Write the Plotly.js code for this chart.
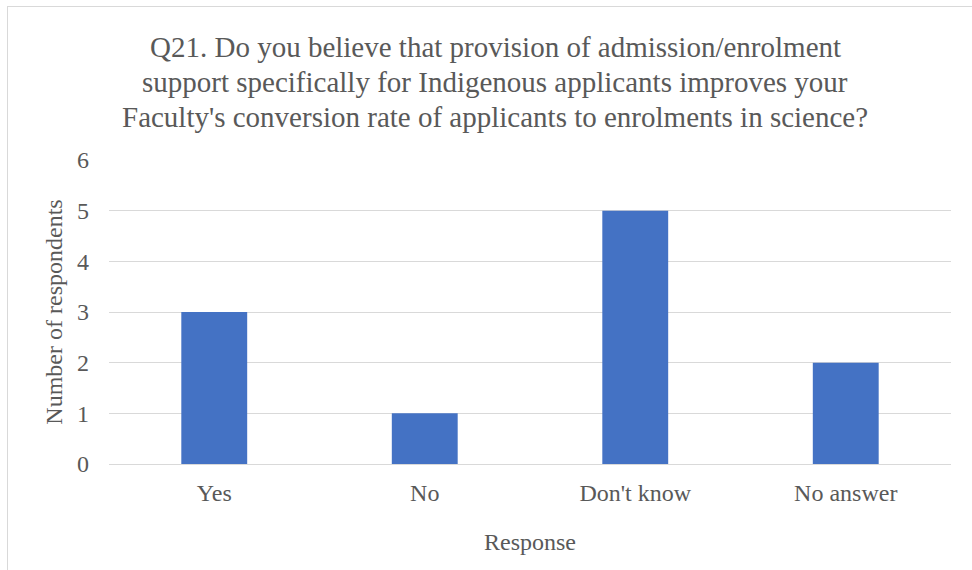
<!DOCTYPE html>
<html>
<head>
<meta charset="utf-8">
<script src="https://cdn.plot.ly/plotly-3.0.1.min.js"></script>
<style>
  html, body { margin: 0; padding: 0; background: #fff; }
  #wrap { position: relative; width: 972px; height: 570px; overflow: hidden; }
  #frame { position: absolute; left: 7px; top: 6px; width: 980px; height: 600px;
           border: 1px solid #d9d9d9; box-sizing: border-box; pointer-events: none; }
  #chart { position: absolute; left: 0; top: 0; width: 972px; height: 570px; }
</style>
</head>
<body>
<div id="wrap">
  <div id="chart"></div>
  <div id="frame"></div>
</div>
<script>
// Survey responses for Q21
const categories = ["Yes", "No", "Don't know", "No answer"];
const respondents = [3, 1, 5, 2];
const yTicks = [0, 1, 2, 3, 4, 5, 6];
const titleLines = [
  "Q21. Do you believe that provision of admission/enrolment",
  "support specifically for Indigenous applicants improves your",
  "Faculty's conversion rate of applicants to enrolments in science?"
];

const textColor = "#595959";
const serif = "Liberation Serif";

const trace = {
  type: "bar",
  x: categories,
  y: respondents,
  marker: { color: "#4472c4" },
  hoverinfo: "x+y"
};

// one annotation per title line keeps the line spacing tight
const titleY = [47, 82, 117];
const annotations = titleLines.map((line, i) => ({
  text: line,
  xref: "paper", yref: "paper",
  x: (495 - 109) / (972 - 109 - 21),
  y: (570 - 106 - titleY[i]) / (570 - 160 - 106),
  xanchor: "center", yanchor: "middle",
  showarrow: false,
  font: { family: serif, size: 29, color: textColor }
}));

const layout = {
  width: 972,
  height: 570,
  margin: { l: 109, r: 21, t: 160, b: 106 },
  paper_bgcolor: "rgba(0,0,0,0)",
  plot_bgcolor: "#fff",
  bargap: 0.687,
  showlegend: false,
  font: { family: serif, color: textColor, size: 24 },
  annotations: annotations,
  xaxis: {
    type: "category",
    showgrid: false,
    showline: true,
    linecolor: "#d9d9d9",
    linewidth: 1,
    ticks: "",
    ticklabelstandoff: 7,
    tickfont: { family: serif, size: 24, color: textColor },
    title: { text: "Response", font: { family: serif, size: 24, color: textColor }, standoff: 28 }
  },
  yaxis: {
    range: [0, 6],
    tickvals: yTicks,
    showgrid: true,
    gridcolor: "#d9d9d9",
    gridwidth: 1,
    zeroline: false,
    showline: false,
    ticks: "",
    ticklabelstandoff: 19,
    tickfont: { family: serif, size: 24, color: textColor },
    title: { text: "Number of respondents", font: { family: serif, size: 24, color: textColor }, standoff: 7 }
  }
};

Plotly.newPlot("chart", [trace], layout, { displayModeBar: false, staticPlot: true });
</script>
</body>
</html>
